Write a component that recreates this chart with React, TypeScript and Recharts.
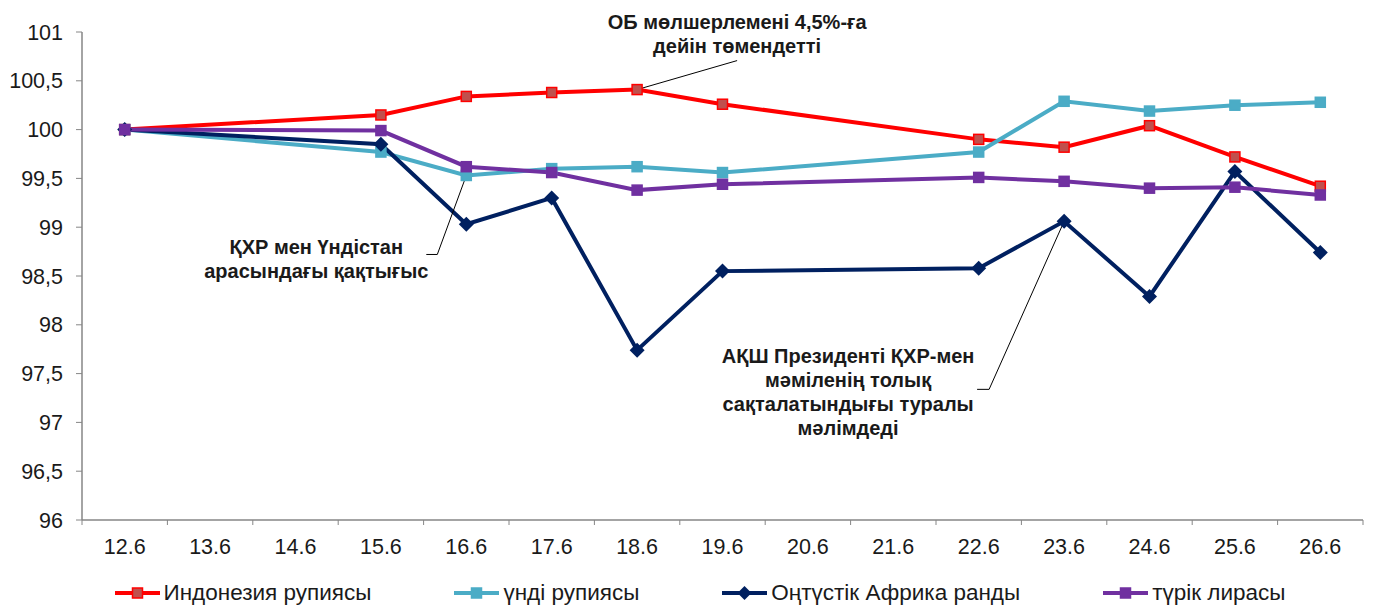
import React from "react";
import {
  LineChart,
  Line,
  XAxis,
  YAxis,
  Legend,
  ReferenceDot,
} from "recharts";

const dates = ["12.6", "13.6", "14.6", "15.6", "16.6", "17.6", "18.6", "19.6", "20.6", "21.6", "22.6", "23.6", "24.6", "25.6", "26.6"];
const indonesia = [100, null, null, 100.15, 100.34, 100.38, 100.41, 100.26, null, null, 99.9, 99.82, 100.04, 99.72, 99.42];
const india = [100, null, null, 99.77, 99.53, 99.6, 99.62, 99.56, null, null, 99.77, 100.29, 100.19, 100.25, 100.28];
const southAfrica = [100, null, null, 99.85, 99.03, 99.3, 97.74, 98.55, null, null, 98.58, 99.06, 98.29, 99.57, 98.74];
const turkey = [100, null, null, 99.99, 99.62, 99.56, 99.38, 99.44, null, null, 99.51, 99.47, 99.4, 99.41, 99.33];
const yTicks = [96, 96.5, 97, 97.5, 98, 98.5, 99, 99.5, 100, 100.5, 101];

const seriesNames = ["Индонезия рупиясы", "үнді рупиясы", "Оңтүстік Африка ранды", "түрік лирасы"];

const data = dates.map((d, i) => ({
  date: d,
  indonesia: indonesia[i],
  india: india[i],
  southAfrica: southAfrica[i],
  turkey: turkey[i],
}));

const W = 1373;
const H = 612;
const LEFT = 82;
const RIGHT = 10;
const PLOT_W = W - LEFT - RIGHT;
const STEP = PLOT_W / dates.length;
const FONT = "'Liberation Sans', Arial, sans-serif";
const AXIS = "#868686";
const TEXT = "#1a1a1a";

const COLORS = {
  indonesia: { line: "#ff0000", fill: "#c0504d" },
  india: { line: "#4bacc6", fill: "#4bacc6" },
  southAfrica: { line: "#002060", fill: "#002060" },
  turkey: { line: "#7030a0", fill: "#7030a0" },
};

function squareDot(fill: string, stroke: string, size = 10) {
  return (p: any) => {
    const { cx, cy, index, value } = p;
    if (cx == null || cy == null || value == null) return <g key={index} />;
    return (
      <rect
        key={index}
        x={cx - size / 2}
        y={cy - size / 2}
        width={size}
        height={size}
        fill={fill}
        stroke={stroke}
        strokeWidth={1.5}
      />
    );
  };
}

function diamondDot(fill: string, size = 15) {
  return (p: any) => {
    const { cx, cy, index, value } = p;
    if (cx == null || cy == null || value == null) return <g key={index} />;
    const h = size / 2;
    return (
      <polygon
        key={index}
        points={`${cx},${cy - h} ${cx + h},${cy} ${cx},${cy + h} ${cx - h},${cy}`}
        fill={fill}
      />
    );
  };
}

const XTick = (props: any) => {
  const { x, y, payload, index } = props;
  const half = STEP / 2;
  return (
    <g>
      <line x1={x - half} x2={x - half} y1={y} y2={y + 5} stroke={AXIS} />
      {index === dates.length - 1 && (
        <line x1={x + half} x2={x + half} y1={y} y2={y + 5} stroke={AXIS} />
      )}
      <text x={x} y={y + 34} textAnchor="middle" fontSize={21.5} fill={TEXT} fontFamily={FONT}>
        {payload.value}
      </text>
    </g>
  );
};

function LegendIcon({ kind, line, fill }: { kind: string; line: string; fill: string }) {
  return (
    <svg width={47} height={16} style={{ display: "block" }}>
      <line x1={1} x2={46} y1={8} y2={8} stroke={line} strokeWidth={4} />
      {kind === "diamond" ? (
        <polygon points="23.5,1 30.5,8 23.5,15 16.5,8" fill={fill} />
      ) : (
        <rect x={18.5} y={3} width={10} height={10} fill={fill} stroke={line} strokeWidth={1.5} />
      )}
    </svg>
  );
}

const legendItems = [
  { name: seriesNames[0], kind: "square", ...COLORS.indonesia },
  { name: seriesNames[1], kind: "square", ...COLORS.india },
  { name: seriesNames[2], kind: "diamond", ...COLORS.southAfrica },
  { name: seriesNames[3], kind: "square", ...COLORS.turkey },
];

const renderLegend = () => (
  <div
    style={{
      display: "flex",
      justifyContent: "center",
      gap: 82,
      fontFamily: FONT,
      fontSize: 22.5,
      color: TEXT,
      marginLeft: 36,
    }}
  >
    {legendItems.map((it) => (
      <div key={it.name} style={{ display: "flex", alignItems: "center", gap: 3 }}>
        <LegendIcon kind={it.kind} line={it.line} fill={it.fill} />
        <span>{it.name}</span>
      </div>
    ))}
  </div>
);

function annotation(lines: string[], textDx: number, textDy: number, path: [number, number][]) {
  return (p: any) => {
    const { cx, cy } = p;
    const pts = path.map(([dx, dy]) => `${cx + dx},${cy + dy}`).join(" ");
    return (
      <g>
        <polyline points={`${cx},${cy} ${pts}`} fill="none" stroke="#000" strokeWidth={1} />
        <text
          x={cx + textDx}
          y={cy + textDy}
          textAnchor="middle"
          fontSize={20}
          fontWeight="bold"
          fontFamily={FONT}
          fill={TEXT}
        >
          {lines.map((l, i) => (
            <tspan key={i} x={cx + textDx} dy={i === 0 ? 0 : 24}>
              {l}
            </tspan>
          ))}
        </text>
      </g>
    );
  };
}

export default function App() {
  return (
    <div style={{ position: "absolute", left: 0, top: 0, background: "#fff" }}>
      <LineChart
        width={W}
        height={H}
        data={data}
        margin={{ top: 32, right: RIGHT, bottom: 0, left: 0 }}
      >
        <XAxis
          dataKey="date"
          padding={{ left: STEP / 2, right: STEP / 2 }}
          tickLine={false}
          tickSize={0}
          tickMargin={0}
          axisLine={{ stroke: AXIS, strokeWidth: 1.5 }}
          tick={<XTick />}
          interval={0}
          height={60}
        />
        <YAxis
          domain={[96, 101]}
          ticks={yTicks}
          tickFormatter={(v) => String(v).replace(".", ",")}
          tick={{ fontSize: 21.5, fill: TEXT, fontFamily: FONT }}
          tickLine={{ stroke: AXIS }}
          tickSize={6}
          tickMargin={13}
          axisLine={{ stroke: AXIS, strokeWidth: 1.5 }}
          width={LEFT}
          allowDataOverflow
        />
        <Legend verticalAlign="bottom" height={32} content={renderLegend} />
        <Line
          dataKey="indonesia"
          name={seriesNames[0]}
          stroke={COLORS.indonesia.line}
          strokeWidth={4}
          connectNulls
          dot={squareDot(COLORS.indonesia.fill, COLORS.indonesia.line)}
          activeDot={false}
          isAnimationActive={false}
        />
        <Line
          dataKey="india"
          name={seriesNames[1]}
          stroke={COLORS.india.line}
          strokeWidth={4}
          connectNulls
          dot={squareDot(COLORS.india.fill, COLORS.india.line)}
          activeDot={false}
          isAnimationActive={false}
        />
        <Line
          dataKey="southAfrica"
          name={seriesNames[2]}
          stroke={COLORS.southAfrica.line}
          strokeWidth={4}
          connectNulls
          dot={diamondDot(COLORS.southAfrica.fill)}
          activeDot={false}
          isAnimationActive={false}
        />
        <Line
          dataKey="turkey"
          name={seriesNames[3]}
          stroke={COLORS.turkey.line}
          strokeWidth={4}
          connectNulls
          dot={squareDot(COLORS.turkey.fill, COLORS.turkey.line)}
          activeDot={false}
          isAnimationActive={false}
        />
        <ReferenceDot
          x={dates[6]}
          y={indonesia[6] as number}
          r={0}
          ifOverflow="visible"
          shape={annotation(["ОБ мөлшерлемені 4,5%-ға", "дейін төмендетті"], 100, -61, [[100, -29]])}
        />
        <ReferenceDot
          x={dates[4]}
          y={india[4] as number}
          r={0}
          ifOverflow="visible"
          shape={annotation(["ҚХР мен Үндістан", "арасындағы қақтығыс"], -150, 79, [[-29, 79], [-40, 79]])}
        />
        <ReferenceDot
          x={dates[11]}
          y={southAfrica[11] as number}
          r={0}
          ifOverflow="visible"
          shape={annotation(
            ["АҚШ Президенті ҚХР-мен", "мәміленің толық", "сақталатындығы туралы", "мәлімдеді"],
            -216,
            142,
            [[-75, 168], [-87, 168]]
          )}
        />
      </LineChart>
    </div>
  );
}
